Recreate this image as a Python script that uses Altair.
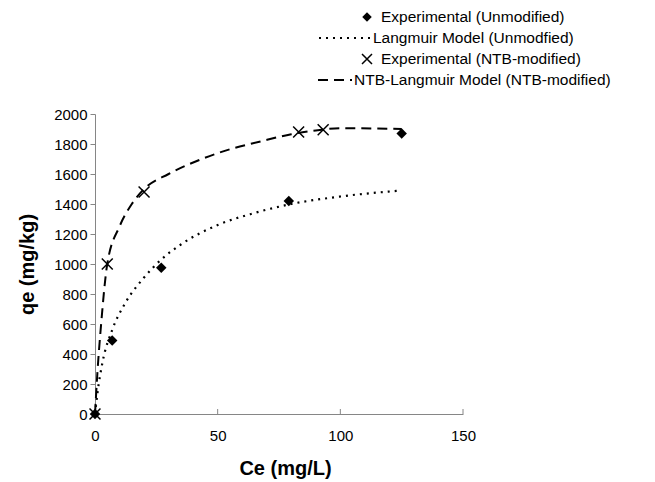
import altair as alt
import pandas as pd

# Experimental data
ce_unmod = [0, 7, 27, 79, 125]
qe_unmod = [0, 490, 975, 1420, 1870]
ce_ntb = [0, 5, 20, 83, 93]
qe_ntb = [0, 1000, 1480, 1880, 1895]

# Model curves
ce_lang = [0, 1, 3, 7, 12, 20, 27, 35, 50, 65, 80, 100, 125]
qe_lang = [0, 140, 340, 560, 730, 910, 1030, 1130, 1260, 1340, 1400, 1450, 1490]
ce_ntbl = [0, 1, 2.5, 5, 10, 15, 20, 30, 42, 55, 67, 80, 90, 100, 125]
qe_ntbl = [0, 280, 600, 1000, 1250, 1400, 1500, 1600, 1690, 1765, 1815, 1865, 1890, 1905, 1900]

x_ticks = [50, 100, 150]

legend_labels = [
    "Experimental (Unmodified)",
    "Langmuir Model (Unmodfied)",
    "Experimental (NTB-modified)",
    "NTB-Langmuir Model (NTB-modified)",
]

W, H = 368, 300
FONT = "Liberation Sans"
AXC = "#868686"
CROSS = "M-1,-1L1,1M-1,1L1,-1"

df_u = pd.DataFrame({"ce": ce_unmod, "qe": qe_unmod})
df_n = pd.DataFrame({"ce": ce_ntb, "qe": qe_ntb})
df_l = pd.DataFrame({"ce": ce_lang, "qe": qe_lang})
df_nl = pd.DataFrame({"ce": ce_ntbl, "qe": qe_ntbl})
df_t = pd.DataFrame({"ce": x_ticks})

xs = alt.Scale(domain=[0, 150], nice=False)
ys = alt.Scale(domain=[0, 2000], nice=False)

X = alt.X("ce:Q", scale=xs,
          axis=alt.Axis(title="Ce (mg/L)", values=[0, 50, 100, 150], ticks=False,
                        format="d", labelFlush=False, labelPadding=14,
                        titlePadding=15, titleX=190))
Y = alt.Y("qe:Q", scale=ys,
          axis=alt.Axis(title="qe (mg/kg)", values=list(range(0, 2001, 200)),
                        format="d", labelFlush=False, tickSize=5, labelPadding=3,
                        titlePadding=16))

lang_line = alt.Chart(df_l).mark_line(color="black", strokeWidth=2.2, strokeDash=[2, 5],
                                      interpolate="monotone").encode(x=X, y=Y)
ntb_line = alt.Chart(df_nl).mark_line(color="black", strokeWidth=2, strokeDash=[10, 6],
                                      interpolate="monotone").encode(x=X, y=Y)
unmod_pts = alt.Chart(df_u).mark_point(shape="diamond", filled=True, color="black",
                                       size=110, opacity=1).encode(x=X, y=Y)
ntb_pts = alt.Chart(df_n).mark_point(shape=CROSS, filled=False,
                                     color="black", size=120, strokeWidth=1.5,
                                     opacity=1).encode(x=X, y=Y)
xticks = alt.Chart(df_t).mark_rule(color=AXC, strokeWidth=1).encode(
    x=alt.X("ce:Q", scale=xs), y=alt.value(H), y2=alt.value(H - 5))

# Manual legend (Excel style, above the plot)
rows = [-97, -76, -55, -34]
leg_x = [286, 278, 286, 259]
texts = []
for i, lab in enumerate(legend_labels):
    texts.append(
        alt.Chart(pd.DataFrame({"label": [lab]})).mark_text(
            align="left", baseline="middle", font=FONT, fontSize=15.5, color="black"
        ).encode(x=alt.value(leg_x[i]), y=alt.value(rows[i]), text="label:N")
    )
leg_diamond = alt.Chart(pd.DataFrame({"label": [legend_labels[0]]})).mark_point(
    shape="diamond", filled=True, color="black", size=90, opacity=1
).encode(x=alt.value(272), y=alt.value(rows[0]))
leg_dot = alt.Chart(pd.DataFrame({"label": [legend_labels[1]]})).mark_rule(
    color="black", strokeWidth=2, strokeDash=[2, 5]
).encode(x=alt.value(224), x2=alt.value(276), y=alt.value(rows[1]))
leg_cross = alt.Chart(pd.DataFrame({"label": [legend_labels[2]]})).mark_point(
    shape=CROSS, filled=False, color="black", size=100,
    strokeWidth=1.5, opacity=1
).encode(x=alt.value(272), y=alt.value(rows[2]))
leg_dash = alt.Chart(pd.DataFrame({"label": [legend_labels[3]]})).mark_rule(
    color="black", strokeWidth=2, strokeDash=[10, 6]
).encode(x=alt.value(223), x2=alt.value(257), y=alt.value(rows[3]))

chart = alt.layer(
    lang_line, ntb_line, unmod_pts, ntb_pts, xticks,
    leg_diamond, leg_dot, leg_cross, leg_dash, *texts
).properties(
    width=W, height=H,
    autosize=alt.AutoSizeParams(type="none"),
    padding={"left": 95, "top": 114, "right": 192, "bottom": 68},
    background="white",
).configure_view(stroke=None).configure_axis(
    grid=False, domainColor=AXC, tickColor=AXC, domainWidth=1, tickWidth=1,
    labelFont=FONT, labelFontSize=15, labelColor="black",
    titleFont=FONT, titleFontSize=20, titleFontWeight="bold", titleColor="black",
)

chart.save("out.html", embed_options={"renderer": "svg", "actions": False})
